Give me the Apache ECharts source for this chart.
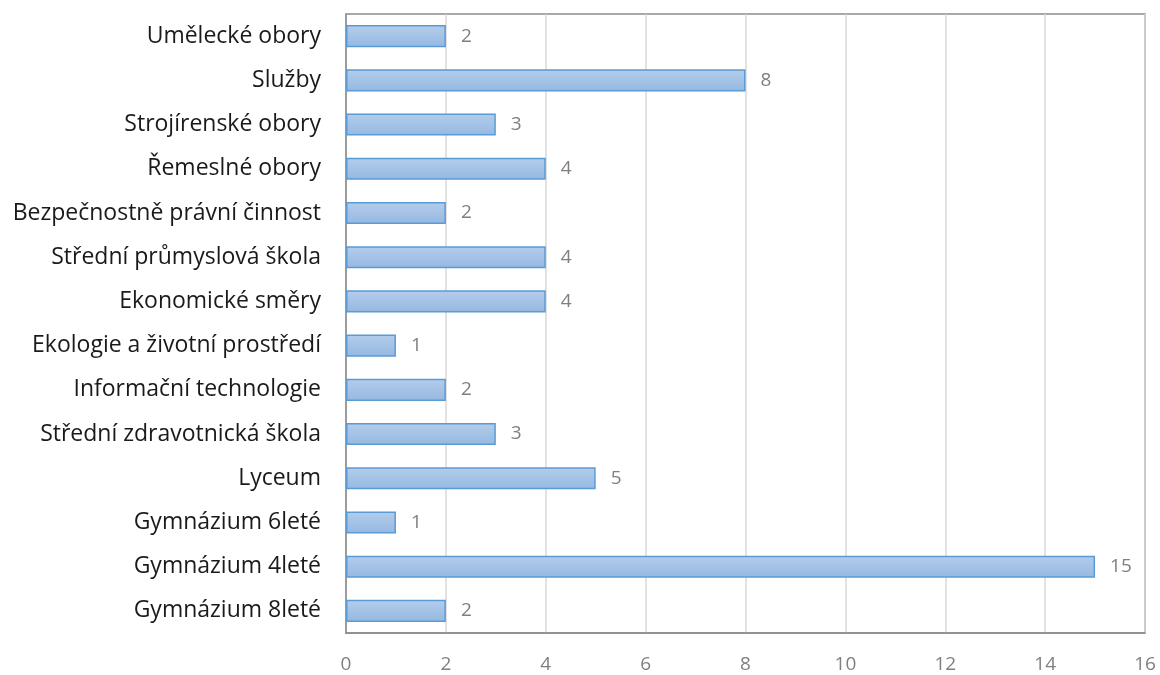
<!DOCTYPE html>
<html>
<head>
<meta charset="utf-8">
<script src="https://cdn.jsdelivr.net/npm/echarts@6/dist/echarts.min.js"></script>
<style>
  html, body { margin: 0; padding: 0; background: #fff; }
  #chart { width: 1160px; height: 675px; }
</style>
</head>
<body>
<div id="chart"></div>
<script>
// bottom to top, as in the picture
const categories = [
  'Gymnázium 8leté',
  'Gymnázium 4leté',
  'Gymnázium 6leté',
  'Lyceum',
  'Střední zdravotnická škola',
  'Informační technologie',
  'Ekologie a životní prostředí',
  'Ekonomické směry',
  'Střední průmyslová škola',
  'Bezpečnostně právní činnost',
  'Řemeslné obory',
  'Strojírenské obory',
  'Služby',
  'Umělecké obory'
];
const counts = [2, 15, 1, 5, 3, 2, 1, 4, 4, 2, 4, 3, 8, 2];
const xTicks = [0, 2, 4, 6, 8, 10, 12, 14, 16];

const font = 'Open Sans, Noto Sans, sans-serif';
const chart = echarts.init(document.getElementById('chart'));

chart.setOption({
  animation: false,
  grid: {
    left: 346,
    right: 15,
    top: 14,
    bottom: 42,
    show: true,
    borderColor: '#8c8c8c',
    borderWidth: 1.5
  },
  xAxis: {
    type: 'value',
    min: xTicks[0],
    max: xTicks[xTicks.length - 1],
    interval: 2,
    axisLine: { show: true, lineStyle: { color: '#8c8c8c', width: 1.5 } },
    axisTick: { show: false },
    splitLine: { lineStyle: { color: '#d9d9d9', width: 1.5 } },
    axisLabel: { color: '#7f7f7f', fontSize: 19, fontFamily: font, margin: 22 }
  },
  yAxis: {
    type: 'category',
    data: categories,
    axisLine: { show: true, lineStyle: { color: '#8c8c8c', width: 1.5 } },
    axisTick: { show: false },
    axisLabel: { color: '#1a1a1a', fontSize: 23, fontFamily: font, margin: 25 }
  },
  series: [
    {
      type: 'bar',
      data: counts,
      barWidth: '50%',
      itemStyle: {
        color: new echarts.graphic.LinearGradient(0, 0, 0, 1, [
          { offset: 0, color: '#b4cdeb' },
          { offset: 1, color: '#95b8e1' }
        ]),
        borderColor: '#5b9bd5',
        borderWidth: 1.5
      },
      label: {
        show: true,
        position: 'right',
        distance: 15,
        color: '#7f7f7f',
        fontSize: 19,
        fontFamily: font
      }
    }
  ]
});
</script>
</body>
</html>
